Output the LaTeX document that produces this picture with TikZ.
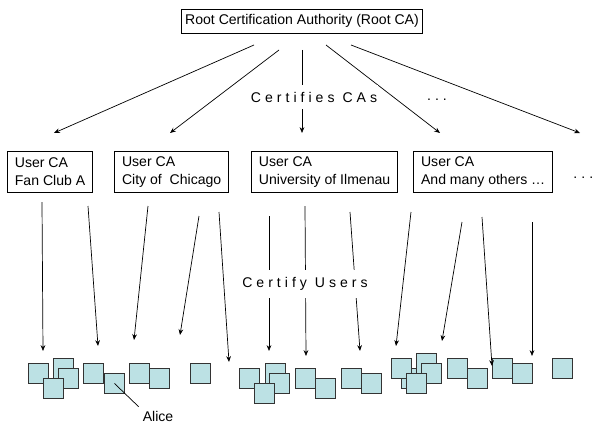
\documentclass[tikz,border=0pt]{standalone}
\usepackage{fontspec}
\setmainfont{Liberation Sans}
\newfontfamily\spacedfont[LetterSpace=28.6]{Liberation Sans}
\usetikzlibrary{arrows.meta}
\usetikzlibrary{positioning}
\definecolor{userfill}{RGB}{188,225,228}
\tikzstyle{rootca} = [rectangle, draw=black, line width=0.7pt, minimum width=205.7pt, minimum height=20.4pt, inner sep=0pt, font=\fontsize{12}{14}\selectfont]
\tikzstyle{userca} = [rectangle, draw=black, line width=0.7pt, align=left, inner xsep=6.4pt, minimum height=34.9pt, font=\fontsize{12}{15.3}\selectfont]
\tikzstyle{user} = [rectangle, draw=black!80, line width=0.8pt, fill=userfill, minimum size=17pt, inner sep=0pt, anchor=north west]
\tikzstyle{spaced} = [fill=white, inner xsep=1pt, inner ysep=6pt, font=\fontsize{12}{14}\spacedfont]
\tikzstyle{arrow} = [line width=0.6pt, -{Stealth[length=5pt,width=4pt]}]

\begin{document}
\begin{tikzpicture}[x=0.03cm, y=-0.03cm]
            \useasboundingbox (0,0) rectangle (596,424);
            \node[rootca] (root) at (302,21) {Root Certification Authority (Root CA)};
            \node[userca, anchor=north west] (ca1) at (7,151) {User CA\\Fan Club A};
            \node[userca, right=17.9pt of ca1] (ca2) {User CA\\City of~ Chicago};
            \node[userca, right=18.7pt of ca2] (ca3) {User CA\\University of Ilmenau};
            \node[userca, right=12.8pt of ca3] (ca4) {User CA\\And many others …};
            \node[font=\fontsize{12}{14}\spacedfont, anchor=west, inner sep=1pt] (more) at (572,178) {...};
            \foreach \n/\xa/\ya/\xb/\yb in {1/254/45/54/133, 2/279/50/170/133, 3/302/50/302/133, 4/326/45/440/133, 5/351/45/580/133}{
                \coordinate (rt\n) at (\xa,\ya);
                \coordinate (rh\n) at (\xb,\yb);
                \draw[arrow] (rt\n) -- (rh\n);
            }
            \node[spaced] (certca) at (314,97) {Certifies CAs};
            \node[font=\fontsize{12}{14}\spacedfont] (dots) at (437,100) {...};
            \foreach \n/\x/\y in {1/28/363, 2/53/358, 3/58/368, 4/43/378, 5/83/363, 6/104/373, 7/129/363, 8/149/368, 9/190/363,
                10/239/368, 11/265/363, 12/269/373, 13/254/383, 14/295/368, 15/315/378, 16/341/368, 17/361/373,
                18/401/368, 19/391/358, 20/416/353, 21/421/363, 22/406/373, 23/447/358, 24/467/368, 25/492/358, 26/512/363, 27/552/358}
                \node[user] (u\n) at (\x,\y) {};
            \foreach \n/\xa/\ya/\xb/\yb in {1/42/202/43/351, 2/88/206/98/346, 3/148/206/134/340, 4/199/216/180/335, 5/219/212/229/362,
                6/269/216/269/351, 7/305/206/306/356, 8/350/212/360/351, 9/411/212/396/346, 10/462/222/442/341, 11/482/217/492/366, 12/532/222/532/356}{
                \coordinate (ct\n) at (\xa,\ya);
                \coordinate (ch\n) at (\xb,\yb);
                \draw[arrow] (ct\n) -- (ch\n);
            }
            \node[spaced] (certusers) at (305,284) {Certify Users};
            \node[font=\fontsize{12}{14}\selectfont] (alice) at (158,416) {Alice};
            \draw[line width=0.6pt] (u6.center) -- (alice.north west);
        \end{tikzpicture}
\end{document}
